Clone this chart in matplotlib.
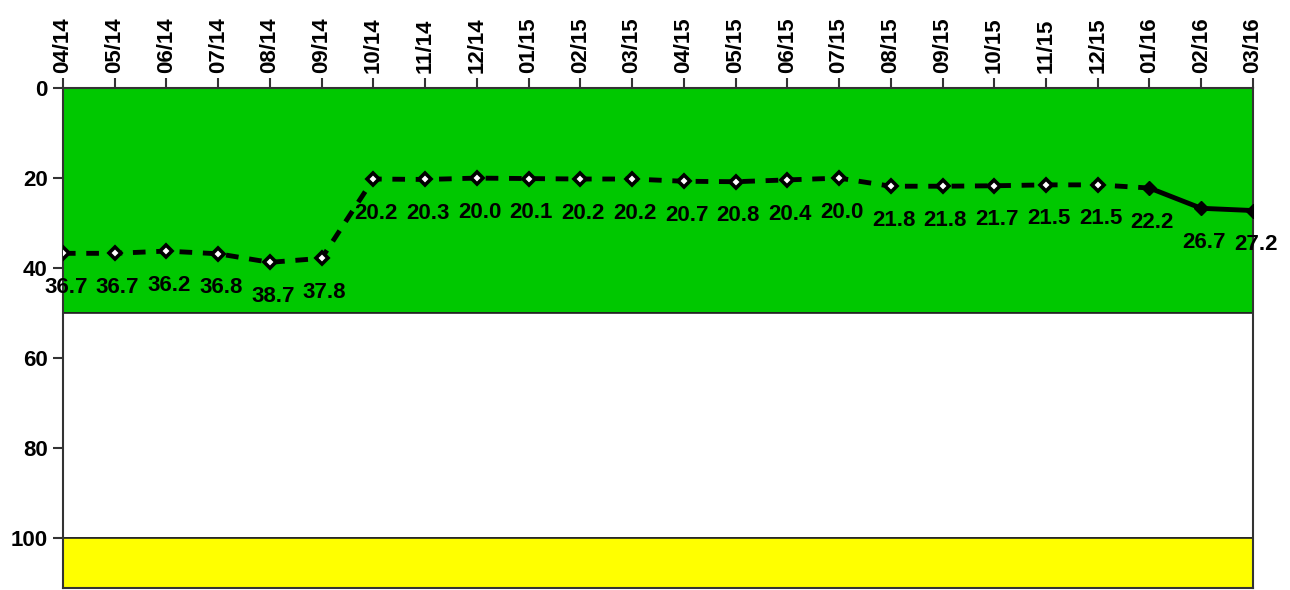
import numpy as np
from matplotlib import pyplot as plt

plt.rcParams['font.family'] = ['Liberation Sans', 'DejaVu Sans']

months = ["04/14", "05/14", "06/14", "07/14", "08/14", "09/14", "10/14", "11/14",
          "12/14", "01/15", "02/15", "03/15", "04/15", "05/15", "06/15", "07/15",
          "08/15", "09/15", "10/15", "11/15", "12/15", "01/16", "02/16", "03/16"]
values = [36.7, 36.7, 36.2, 36.8, 38.7, 37.8, 20.2, 20.3, 20.0, 20.1, 20.2, 20.2,
          20.7, 20.8, 20.4, 20.0, 21.8, 21.8, 21.7, 21.5, 21.5, 22.2, 26.7, 27.2]
y_ticks = [0, 20, 40, 60, 80, 100]
split = 21  # dashed up to 01/16, solid after

fig = plt.figure(figsize=(12.9, 5.9), dpi=100)
ax = fig.add_axes([0.0488, 0.0034, 0.9225, 0.8474])

x = np.arange(len(months))

# background bands
ax.axhspan(0, 50, facecolor='#00c800', edgecolor='#222222', linewidth=1.2, zorder=0)
ax.axhspan(50, 100, facecolor='white', edgecolor='#222222', linewidth=1.2, zorder=0)
ax.axhspan(100, 111, facecolor='#ffff00', edgecolor='#222222', linewidth=1.2, zorder=0)

ax.plot(x[:split + 1], values[:split + 1], color='black', linewidth=3.5,
        linestyle=(0, (2.6, 2.2)), zorder=3)
ax.plot(x[split:], values[split:], color='black', linewidth=3.5, zorder=3)
ax.plot(x[:split], values[:split], linestyle='none', marker='D', markersize=6,
        markerfacecolor='white', markeredgecolor='black', markeredgewidth=2.6, zorder=4)
ax.plot(x[split:], values[split:], linestyle='none', marker='D', markersize=7,
        color='black', zorder=4)

for xi, v in zip(x, values):
    ax.annotate(f"{v:.1f}", (xi, v), xytext=(2, -17), textcoords='offset points',
                ha='center', va='top', fontsize=16, fontweight='bold',
                annotation_clip=False, zorder=5)

ax.set_xlim(0, len(months) - 1)
ax.set_ylim(111, 0)
ax.xaxis.tick_top()
ax.set_xticks(x)
ax.set_xticklabels(months, rotation=90, fontsize=16, fontweight='bold')
ax.set_yticks(y_ticks)
ax.set_yticklabels([str(t) for t in y_ticks], fontsize=16, fontweight='bold')
ax.tick_params(axis='both', length=7, width=1.5, color='#333333', pad=4)
for s in ax.spines.values():
    s.set_color('#333333')
    s.set_linewidth(1.5)

fig.savefig('out.png', dpi=100)
